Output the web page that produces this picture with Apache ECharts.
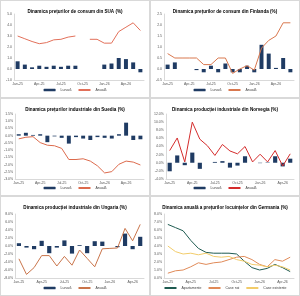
<!DOCTYPE html>
<html>
<head>
<meta charset="utf-8">
<script src="https://cdn.jsdelivr.net/npm/echarts@6/dist/echarts.min.js"></script>
<style>
  body { margin: 0; background: #fff; }
  #wrap { position: relative; width: 300px; height: 296px; }
  .p { position: absolute; box-sizing: border-box; border: 1px solid #d9d9d9; background: #fff; }
</style>
</head>
<body>
<div id="wrap">
  <div class="p" id="c1" style="left:0;top:0;width:150px;height:98px"></div>
  <div class="p" id="c2" style="left:150px;top:0;width:150px;height:98px"></div>
  <div class="p" id="c3" style="left:0;top:98px;width:150px;height:98px"></div>
  <div class="p" id="c4" style="left:150px;top:98px;width:150px;height:98px"></div>
  <div class="p" id="c5" style="left:0;top:196px;width:150px;height:100px"></div>
  <div class="p" id="c6" style="left:150px;top:196px;width:150px;height:100px"></div>
</div>
<script>
// luni
var months18 = ['Jan-25','Feb-25','Mar-25','Apr-25','May-25','Jun-25','Jul-25','Aug-25','Sep-25','Oct-25','Nov-25','Dec-25','Jan-26','Feb-26','Mar-26','Apr-26','May-26','Jun-26'];
var months17 = months18.slice(0, 17);

// SUA - preturi de consum
var usLunara = [0.7, 0.4, 0.15, 0.3, 0.2, 0.3, 0.2, 0.3, 0.3, null, null, null, 0.4, 0.5, 1.0, 0.9, 0.6, -0.3];
var usAnuala = [3.0, 2.75, 2.5, 2.3, 2.4, 2.65, 2.7, 2.9, 3.0, null, 2.7, 2.7, 2.35, 2.35, 3.4, 3.8, 4.2, 3.5];

// Finlanda - preturi de consum
var fiLunara = [0.2, 0.3, 0, 0, -0.05, -0.15, 0.15, -0.15, 0.25, -0.15, -0.15, 0.15, -0.15, 1.1, 0.7, 0.05, 0.5, -0.15];
var fiAnuala = [0.7, 0.5, 0.5, 0.5, 0.5, 0.2, 0.2, 0.5, 0.5, -0.2, 0, 0.15, -0.05, 0.95, 1.3, 1.5, 2.1, 2.1];

// Suedia - preturi industriale
var seLunara = [0.1, 0.2, 0.05, 0.1, -0.45, -0.05, -0.15, -0.55, -0.1, -0.2, -0.3, -0.1, -0.15, -0.2, 0.1, 0.9, -0.3, -0.25];
var seAnuala = [-0.22, -0.11, -0.07, -0.48, -0.66, -0.7, -0.88, -1.65, -1.65, -1.6, -1.76, -2.09, -2.58, -2.49, -1.98, -1.76, -1.83, -2.03];

// Norvegia - productie industriala
var noLunara = [-2.1, 1.8, -0.6, 2.5, -1.5, 0, 0.2, 0.4, -1.2, -0.7, 1.6, 0, -0.1, 0.1, 1.6, -0.9, 1.0];
var noAnuala = [3.0, 6.1, 0.2, 10.0, 5.8, 4.2, 1.8, 4.5, 2.9, 2.2, 4.0, 0.2, 2.1, 0.2, 3.0, -0.8, 2.2];

// Ungaria - productie industriala
var huLunara = [0.7, -0.4, -0.8, 1.3, -1.8, -0.4, 1.4, -1.9, 0.2, -1.8, 1.2, 1.1, 0, -0.3, 3.1, -0.8, 2.3];
var huAnuala = [-3.2, -7.1, -5.4, -2.4, -2.4, -5.0, -2.6, -4.8, -1.0, -3.1, -5.2, -0.7, -0.6, -0.5, 4.4, 1.3, 5.4];

// Germania - preturile locuintelor
var deApartamente = [6.7, 6.3, 5.9, 4.7, 3.7, 3.2, 3.1, 3.1, 3.1, 3.0, 2.1, 1.3, 1.0, 1.2, 1.7, 1.3, 0.8];
var deCaseNoi = [0.6, 0.9, 1.0, 1.4, 1.9, 1.7, 1.9, 2.0, 2.3, 2.6, 2.7, 2.3, 1.7, 1.4, 2.3, 2.1, 2.6];
var deCaseExistente = [4.0, 3.3, 3.0, 3.1, 2.9, 3.1, 2.7, 2.6, 2.7, 2.3, 2.1, 1.7, 1.6, 1.4, 1.6, 1.4, 1.0];

var FONT = 'Liberation Sans';
var BAR = '#1f3b63';

function baseOption(title, cats, yMin, yMax, yStep, pct, gridTop, gridBottom) {
  return {
    animation: false,
    title: {
      text: title, left: 'center', top: 3,
      textStyle: { fontSize: 4.6, fontWeight: 'bold', color: '#000', fontFamily: FONT }
    },
    grid: { left: 13, right: 5, top: gridTop, bottom: gridBottom },
    legend: {
      bottom: 0, itemWidth: 12, itemHeight: 2.5, itemGap: 6,
      textStyle: { fontSize: 3.5, color: '#404040', fontFamily: FONT }
    },
    xAxis: {
      type: 'category', data: cats,
      axisLine: { onZero: false, lineStyle: { color: '#d9d9d9' } },
      axisTick: { show: false },
      axisLabel: { interval: 2, fontSize: 3.5, color: '#595959', fontFamily: FONT, margin: 2 }
    },
    yAxis: {
      type: 'value', min: yMin, max: yMax, interval: yStep,
      axisLine: { show: true, lineStyle: { color: '#d9d9d9' } },
      splitLine: { show: false },
      axisLabel: {
        fontSize: 3.5, color: '#595959', fontFamily: FONT, margin: 2,
        formatter: function (v) { return v.toFixed(1) + (pct ? '%' : ''); }
      }
    },
    series: []
  };
}

function barLine(id, title, cats, lunara, anuala, lineColor, yMin, yMax, yStep, pct, gridTop, gridBottom) {
  var chart = echarts.init(document.getElementById(id));
  var opt = baseOption(title, cats, yMin, yMax, yStep, pct, gridTop, gridBottom);
  opt.series = [
    { name: 'Lunară', type: 'bar', data: lunara, barWidth: '55%', itemStyle: { color: BAR } },
    { name: 'Anuală', type: 'line', data: anuala, symbol: 'none', lineStyle: { color: lineColor, width: 1 }, itemStyle: { color: lineColor } }
  ];
  chart.setOption(opt);
}

barLine('c1', 'Dinamica prețurilor de consum din SUA (%)', months18, usLunara, usAnuala, '#e2705a', -1, 5, 1, false, 13, 17);
barLine('c2', 'Dinamica prețurilor de consum din Finlanda (%)', months18, fiLunara, fiAnuala, '#d9784f', -0.5, 2.5, 0.5, false, 13, 17);
barLine('c3', 'Dinamica prețurilor industriale din Suedia (%)', months18, seLunara, seAnuala, '#dc6a4c', -3, 1.5, 0.5, true, 15, 16);
barLine('c4', 'Dinamica producției industriale din Norvegia (%)', months17, noLunara, noAnuala, '#d42c2c', -4, 12, 2, true, 15, 16);
barLine('c5', 'Dinamica producției industriale din Ungaria (%)', months17, huLunara, huAnuala, '#c9744a', -8, 8, 2, true, 17, 17);

var c6 = echarts.init(document.getElementById('c6'));
var opt6 = baseOption('Dinamica anuală a prețurilor locuințelor din Germania (%)', months17, 0, 8, 1, true, 17, 17);
opt6.series = [
  { name: 'Apartamente', type: 'line', data: deApartamente, symbol: 'none', lineStyle: { color: '#1e5a50', width: 1 }, itemStyle: { color: '#1e5a50' } },
  { name: 'Case noi', type: 'line', data: deCaseNoi, symbol: 'none', lineStyle: { color: '#e08a58', width: 1 }, itemStyle: { color: '#e08a58' } },
  { name: 'Case existente', type: 'line', data: deCaseExistente, symbol: 'none', lineStyle: { color: '#f2cc6a', width: 1 }, itemStyle: { color: '#f2cc6a' } }
];
c6.setOption(opt6);
</script>
</body>
</html>
